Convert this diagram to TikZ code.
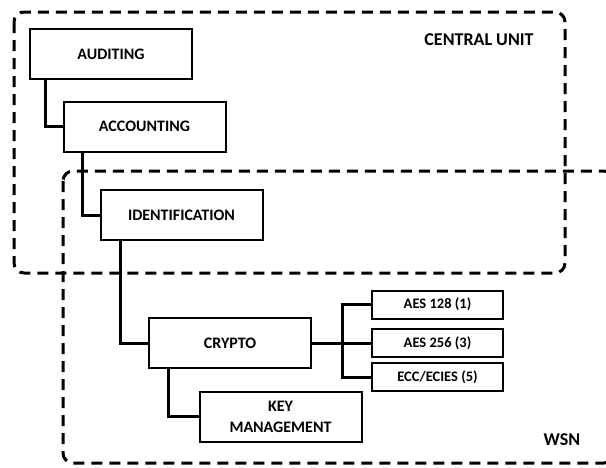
\documentclass[tikz,border=0pt]{standalone}
\usepackage{fontspec}
\setmainfont{Carlito}
\begin{document}
\begin{tikzpicture}[x=1pt,y=-1pt,
  blk/.style={draw=black,line width=2pt,fill=white,minimum width=162pt,minimum height=50pt,
    inner sep=0pt,align=center,font=\fontsize{16}{21}\selectfont\bfseries},
  alg/.style={draw=black,line width=2pt,fill=white,minimum width=131pt,minimum height=28pt,
    inner sep=0pt,font=\fontsize{14.5}{16}\selectfont\bfseries},
  link/.style={draw=black,line width=3pt,line join=miter},
  zone/.style={draw=black,line width=3pt,dash pattern=on 11pt off 7pt,rounded corners=10pt},
  zonelabel/.style={font=\fontsize{18}{20}\selectfont\bfseries,inner sep=0pt}]
\useasboundingbox (0,0) rectangle (606,467);
\clip (0,0) rectangle (606,467);

% tree of blocks
\node[blk] (aud) at (111,54) {AUDITING};
\node[blk] (acc) at (144.5,126.5) {ACCOUNTING};
\node[blk] (ide) at (181.5,215) {IDENTIFICATION};
\node[blk] (cry) at (230,343) {CRYPTO};
\node[blk] (key) at (280.5,416.5) {KEY\\MANAGEMENT};
\node[alg] (a128) at (437.5,304.5) {AES 128 (1)};
\node[alg] (a256) at (437.5,343) {AES 256 (3)};
\node[alg] (ecc) at (437.5,377) {ECC/ECIES (5)};
\coordinate (fork) at (342,343);

% elbow connectors
\draw[link] ([xshift=-66pt]aud.south) |- (acc.west);
\draw[link] ([xshift=-62.5pt]acc.south) |- (ide.west);
\draw[link] ([xshift=-61.5pt]ide.south) |- (cry.west);
\draw[link] ([xshift=-62pt]cry.south) |- (key.west);
\draw[link] (cry.east) -- (fork);
\draw[link] (fork) |- (a128.west);
\draw[link] (fork) -- (a256.west);
\draw[link] (fork) |- (ecc.west);

% dashed zones
\draw[zone] (14,12) rectangle (565,273);
\draw[zone] (63,171) rectangle (614,463);
\node[zonelabel] (cu) at (479,40) {CENTRAL UNIT};
\node[zonelabel] (wsn) at (562,440) {WSN};
\end{tikzpicture}
\end{document}
